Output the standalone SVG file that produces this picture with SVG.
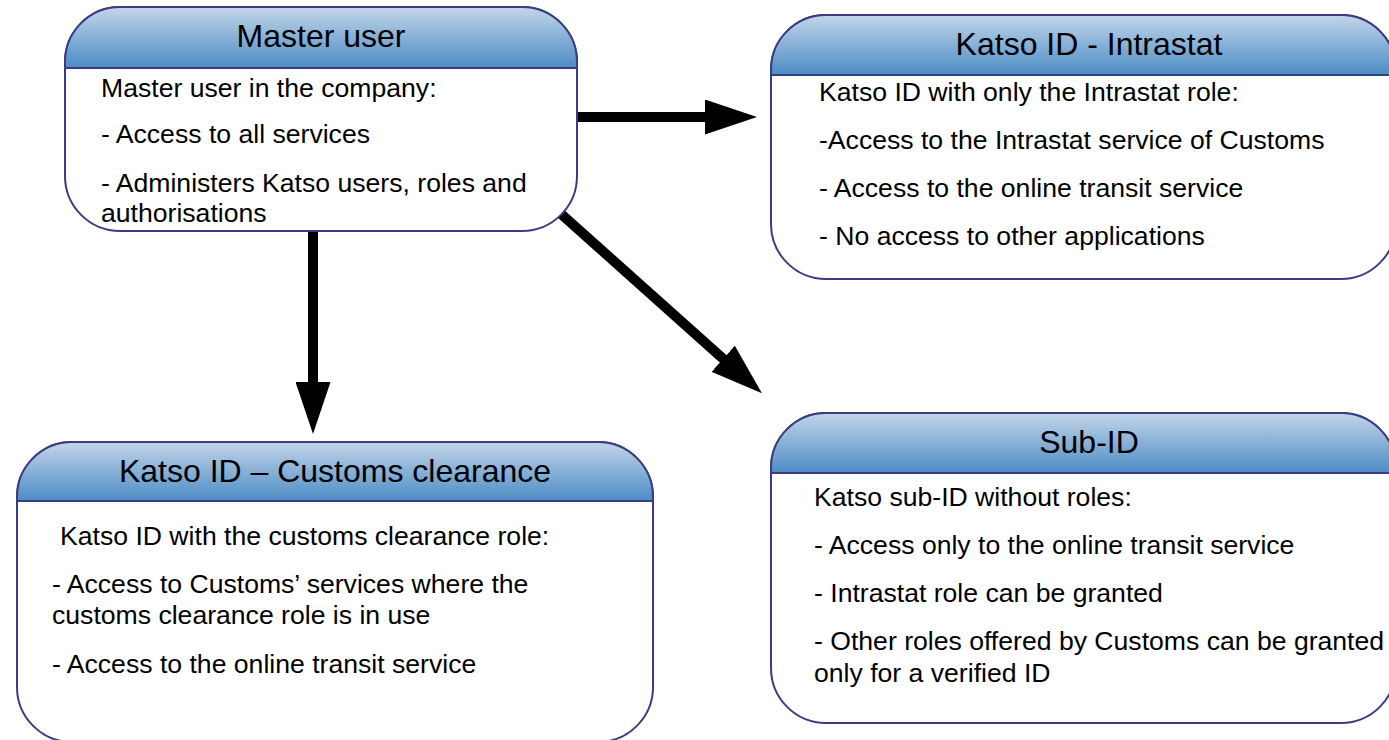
<svg xmlns="http://www.w3.org/2000/svg" width="1389" height="740" viewBox="0 0 1389 740">
  <style>
    .box { fill: #ffffff; stroke: #3A3D82; stroke-width: 2; }
    .hdr { fill: url(#hdrGrad); stroke: #3A3D82; stroke-width: 2; }
    .title { font-family: "Liberation Sans", Arial, sans-serif; font-size: 32px; fill: #000; text-anchor: middle; }
    .body { font-family: "Liberation Sans", Arial, sans-serif; font-size: 26.6px; fill: #000; }
    .conn { stroke: #000; stroke-width: 10; stroke-linecap: round; fill: none; marker-end: url(#arrow); }
  </style>
  <defs>
    <linearGradient id="hdrGrad" x1="0" y1="0" x2="0" y2="1">
      <stop offset="0" stop-color="#C3D5E9"/>
      <stop offset="1" stop-color="#4C8CC5"/>
    </linearGradient>
    <marker id="arrow" viewBox="0 0 52 35" markerWidth="52" markerHeight="35" markerUnits="userSpaceOnUse" refX="1" refY="17.5" orient="auto">
      <path d="M0,0 L52,17.5 L0,35 Z" fill="#000"/>
    </marker>
  </defs>

  <g id="connectors">
    <line class="conn" x1="573" y1="117" x2="706" y2="117"/>
    <line class="conn" x1="313" y1="228" x2="313" y2="383"/>
    <line class="conn" x1="560" y1="213" x2="723.9" y2="359.4"/>
  </g>

  <g id="node-master">
    <rect class="box" x="65" y="7" width="512" height="224" rx="55" ry="55"/>
    <path class="hdr" d="M65,68 V62 A55,55 0 0 1 120,7 H522 A55,55 0 0 1 577,62 V68 Z"/>
    <text class="title" x="321" y="47">Master user</text>
    <text class="body" x="101" y="97">Master user in the company:</text>
    <text class="body" x="101" y="143">- Access to all services</text>
    <text class="body" x="101" y="192">- Administers Katso users, roles and</text>
    <text class="body" x="101" y="222">authorisations</text>
  </g>

  <g id="node-intrastat">
    <rect class="box" x="771" y="15" width="625" height="264" rx="55" ry="55"/>
    <path class="hdr" d="M771,75 V70 A55,55 0 0 1 826,15 H1341 A55,55 0 0 1 1396,70 V75 Z"/>
    <text class="title" x="1089" y="55">Katso ID - Intrastat</text>
    <text class="body" x="819" y="101">Katso ID with only the Intrastat role:</text>
    <text class="body" x="819" y="149">-Access to the Intrastat service of Customs</text>
    <text class="body" x="819" y="197">- Access to the online transit service</text>
    <text class="body" x="819" y="245">- No access to other applications</text>
  </g>

  <g id="node-customs">
    <rect class="box" x="17" y="442" width="636" height="300" rx="55" ry="55"/>
    <path class="hdr" d="M17,501 V497 A55,55 0 0 1 72,442 H598 A55,55 0 0 1 653,497 V501 Z"/>
    <text class="title" x="335" y="482">Katso ID – Customs clearance</text>
    <text class="body" x="60" y="545">Katso ID with the customs clearance role:</text>
    <text class="body" x="52" y="593">- Access to Customs’ services where the</text>
    <text class="body" x="52" y="624">customs clearance role is in use</text>
    <text class="body" x="52" y="673">- Access to the online transit service</text>
  </g>

  <g id="node-subid">
    <rect class="box" x="771" y="413" width="625" height="310" rx="55" ry="55"/>
    <path class="hdr" d="M771,473 V468 A55,55 0 0 1 826,413 H1341 A55,55 0 0 1 1396,468 V473 Z"/>
    <text class="title" x="1089" y="453">Sub-ID</text>
    <text class="body" x="814" y="506">Katso sub-ID without roles:</text>
    <text class="body" x="814" y="554">- Access only to the online transit service</text>
    <text class="body" x="814" y="602">- Intrastat role can be granted</text>
    <text class="body" x="814" y="650">- Other roles offered by Customs can be granted</text>
    <text class="body" x="814" y="682">only for a verified ID</text>
  </g>
</svg>
